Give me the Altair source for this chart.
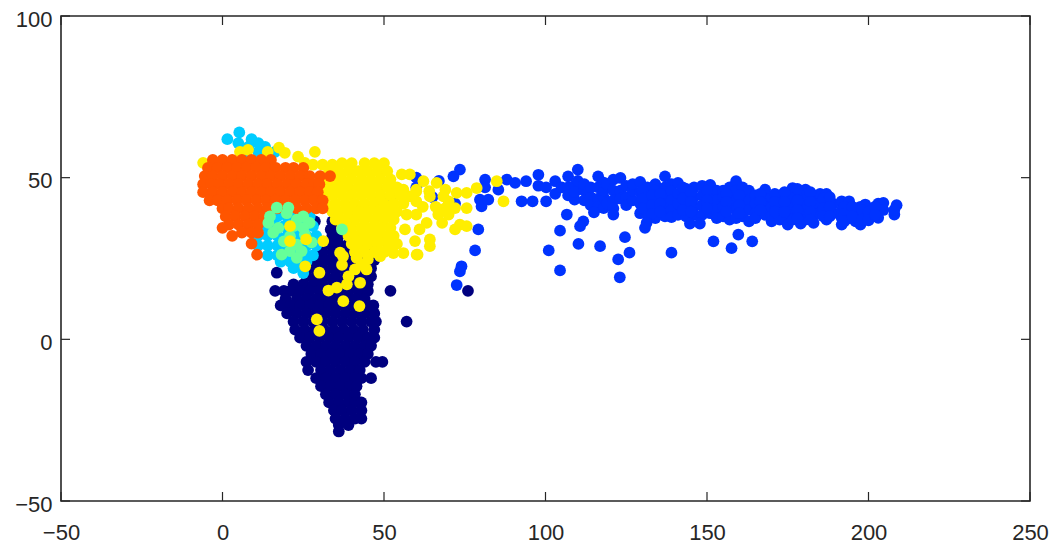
import altair as alt
import pandas as pd

x_ticks = [-50, 0, 50, 100, 150, 200, 250]
y_ticks = [-50, 0, 50, 100]

# (y, [x values]) rows
navy_rows = [
 (36.5,[28.6,34]),(34,[33.5,36]),(32,[34,36,40.5]),(29.5,[33,36,39]),(27,[31,34,37,40,46]),
 (24.5,[29,32,35,38,41,44,47]),(22,[28,31,34,37,40,43,46]),(20.6,[16.8]),
 (19.5,[26,29,32,35,38,41,44,46]),(17,[22,25,28,31,34,37,40,43,45]),
 (15,[16.3,19,21,24,27,30,33,36,39,42,45,52,76]),(12.5,[19.5,23,26,29,32,35,38,41,44]),
 (10.5,[18,21,24,27,30,33,36,39,42,45,46.7]),(8,[20,23,26,29,32,35,38,41,44,47]),
 (5.5,[22,25,28,31,34,37,40,43,46,47.5,57]),(3,[22.5,25.5,28.5,31.5,34.5,37.5,40.5,43.5,47]),
 (0.5,[24,27,30,33,36,39,42,45,47]),(-2,[26,29,32,35,38,41,44,46]),
 (-4.5,[27.5,30.5,33.5,36.5,39.5,42.5,45]),(-7,[26,29,32,35,38,41,44,47.5,49.5]),
 (-9.5,[26.5,30.5,33.5,36.5,39.5,42.5]),(-12,[29,32,35,38,41,43,46]),(-14.5,[30.5,33.5,36.5,39.5,41.5]),
 (-17,[32,35,38,41]),(-19.5,[33,36,39,41,43]),(-22,[34.5,37,40,43]),(-24.5,[35,38,41,43]),
 (-26.5,[36,39]),(-28.5,[36]),
]
# (x, [y values]) columns
blue_cols = [
 (52,[44]),(60,[47,50]),(65,[44]),(67,[49]),(72,[42]),(71.5,[50.4]),(73.5,[52.5,21]),(74,[22.6]),(72.5,[16.8]),
 (78.2,[27.5]),(79.2,[34]),(79.7,[43.2]),(80.2,[41.1]),(81.3,[49.4,47]),(82.3,[43.2]),(85.4,[46.3]),
 (88,[49.4]),(90.6,[48.4]),(92.6,[42.7]),(94,[48.9]),(96,[42.7]),(97.8,[50.9,47.5]),(100.2,[42.7,47]),
 (103,[48.9,45]),(105,[47]),(107,[50.4,47,44.5]),(109,[43.2,47.5,45.5]),(110,[52.5,49]),(112,[46,48,43]),
 (114,[44,47,41.5]),(116.3,[50.4,47,43.5,41]),(118,[40.6,44,46,48.5]),(119,[48,42]),(121,[49.4,46,43,40.5]),(123.2,[49.9,46,43.5]),
 (125,[47.5,44,41.5]),(127,[43,46,48]),(129.3,[48.7,45.5,42,39]),(131.5,[47,44,41,38.5]),(134,[48,46,43,40,37.5]),
 (137,[50.4,47,44,41,38]),(139,[48,46,43,40,37.8]),(141,[48.4,45,42,38.5]),(143.5,[46.5,44,41,38]),
 (146,[47,44,41,38.5]),(148.5,[47.5,44.5,41.5,38.5]),(151,[47.8,45,42,39]),(153,[46,43,40,37.5]),
 (155,[46,44,41,38]),(157,[47,44,41,37]),(159,[48.9,46,43,40,37.5]),(161,[47,44,41,38]),
 (163,[46,43,40,36.5]),(165,[44.5,42,39,37.5]),(168,[46.3,43.5,41,38.5]),(170,[44,41,38,36.5]),
 (172.5,[44.5,42,39,37]),(175,[44,41,38,35.5]),(176.5,[46.8,43.5,40.5,37]),(179,[45,42,39,35.8]),
 (180.5,[46.3,43,40,37]),(183,[44.5,41.5,38.5,36]),(185,[45,42,39]),(187,[45,43,40,37]),(189,[42,39]),
 (191.7,[42.7,40,37.5,35.5]),(194,[42.7,40,37.5]),(196,[39,36.5]),(197.5,[41,38,35.5]),(199,[41.7,39,37]),
 (201,[40,38]),(203,[42,39.5,37.6]),(204.6,[42.2,40]),(208.7,[41.5]),(208,[38.6,40]),
 (130,[46,43.5,40.5]),(133,[44.5,41.5,38.8]),(135.5,[45,42,39.5]),(142.5,[47,43.5,40]),(145,[45.5,42.5,39.5]),
 (150,[46,43,40.5]),(156,[45,42.5,39.5]),(160,[44.5,41.5,39]),(166.5,[45,42.5,40]),(171,[45,42.5,39.5]),
 (174,[45.5,42.5,39.5]),(178,[46.5,43,40,37.5]),(182,[45.5,42.5,39.5,37]),(186,[43.5,40.5,38]),(188,[44,41,38]),
 (192.5,[41,38.8,36.5]),(195,[41,38]),(198,[40,37]),(200,[39.5,36.8]),(202,[41,38.5]),
 (106.6,[38.6]),(115,[39.3]),(121,[38.6]),(111.7,[36.5]),(110.7,[35]),(104.5,[33.6,21.3]),(124.6,[31.6]),
 (110.2,[29.5]),(116.9,[28.8]),(101,[27.5]),(126,[26.8]),(122.5,[24.7]),(139,[26.8]),(123,[19.2]),
 (152,[30.3]),(159.7,[32.4]),(164,[30.3]),(157.6,[28.2]),(130.8,[34.5]),(131.3,[36]),(144.7,[35.8]),(147.8,[35.8]),
]
cyan_rows = [
 (64,[5.2]),(61.9,[1.5,9]),(60.7,[4.9,11.1]),(59.5,[8,13.2]),(58,[7,11.1,16.3]),
 (38,[14,17,20,23,27]),(35,[13,16,19,22,25,28]),(32,[11,14,17,20,23,26,29]),
 (29,[11,14,17,20,23,26,29]),(26,[14,17,20,23,26,28]),(24,[18,21,24,26]),(22,[22,25]),(20.5,[25]),
]
orange_rows = [
 (55.5,[-3,0,3,6,9,12,15]),(53,[-4.5,-1.5,1.5,4.5,7.5,10.5,13.5,16.5,19.5,22,25]),
 (50.5,[-5.5,-3,0,3,6,9,12,15,18,21,24,27,30.2,33.3]),(48,[-6,-3.5,-1,2,5,8,11,14,17,20,23,26,28.5,30]),
 (45.5,[-6,-3,0,3,6,9,12,15,18,21,24,27,29.5]),(43,[-4,-1.5,1.5,4.5,7.5,10.5,13.5,16.5,19.5,22.5,25.5,28.5,31]),
 (40.5,[0,2,5,8,11,14,17,20,23,26,29,31]),(38,[1,4,7,10,13]),(35.5,[2,5,8,11]),(33,[6,9,11]),
 (34.5,[0]),(32,[3]),(29.6,[9]),(26.2,[10.7]),
]
green_rows = [
 (40.7,[16.8,20.4]),(39,[19.9]),(38,[14.7,25]),(37,[23]),(36,[14.2,27]),(35,[22]),(34.5,[17.3,25]),(34,[37]),
 (33,[15.7]),(32.4,[25.5]),(31.9,[20.9]),(30.3,[19]),(30,[27.6]),(29.3,[23]),(27.3,[20.9,24.5]),(26.2,[18.3]),(25.2,[23]),
]
yellow_rows = [
 (54.6,[-6,25.5]),(58,[5.4,14,28.6]),(58.6,[7.9]),(59.3,[17.5]),(57.7,[19.3]),(56.5,[23.4]),(54,[28,31,34]),
 (54.5,[37,40,44,47,50]),(52,[33,36,39,42,45,48,51]),(49.5,[31,34,37,40,43,46,49,52]),
 (47,[30,33,36,39,42,45,48,51,54]),(44.5,[31,34,37,40,43,46,49,52,55]),(42,[32,35,38,41,44,47,50,53,56]),
 (39.5,[34,36,39,42,45,48,51,54]),(37,[35,38,41,44,47,50,53]),(34.5,[37,40,43,46,49,52]),(32,[39,41,44,47,50,53]),
 (29.5,[40,42,45,48,51,54]),(27,[41,44,47,50]),
 (51,[55.5,58]),(48.9,[62.2,84.9]),(48.4,[66.3]),(46.3,[56,60,69]),(45.8,[60,64]),(44.2,[58,64.2,68.4]),(45.3,[72.5,75.6]),
 (46.8,[78.7]),(42.7,[87,70,60]),(40.6,[75.6,72,69]),(35.5,[73.5]),(35,[75.6]),(38.6,[66.8,60,57,70]),(36,[63.2,68]),
 (34,[61,56.5,72]),(38,[52.4]),(30.9,[64.2,44.6]),(28.8,[64.2]),(30.4,[59.6]),(26.2,[60.1,60.4]),(26.7,[56,52.9]),
 (27.8,[51.3]),(25.7,[48.8,37.3]),(31.9,[47.7]),(41,[62,66]),
 (15.1,[32.8]),(16,[35.4]),(17,[38.5]),(17.5,[42.6]),(19.5,[39]),(21.6,[41,44.6]),(25.2,[41.5]),(24.7,[45]),(26.8,[36.4]),
 (23,[43,37]),
]
yellow_front_rows = [
 (35,[20.9]),(30.4,[20.9,31.2]),(30.9,[25.9]),(22.6,[25.6]),(20.6,[30]),(6.2,[29.2]),(2.6,[30]),(11.8,[37.4]),(10.3,[42.4]),
]

colors = ["#00007f", "#0033ff", "#00ccff", "#ffee00", "#ff5500", "#66ff99", "#ffee01"]
names = ["navy", "blue", "cyan", "yellow", "orange", "green", "yellow2"]

xs, ys, ss = [], [], []
def add_rows(rows, name):
    for y, vals in rows:
        for x in vals:
            xs.append(x); ys.append(y); ss.append(name)
def add_cols(cols, name):
    for x, vals in cols:
        for y in vals:
            xs.append(x); ys.append(y); ss.append(name)
add_rows(navy_rows, "navy")
add_cols(blue_cols, "blue")
add_rows(cyan_rows, "cyan")
add_rows(yellow_rows, "yellow")
add_rows(orange_rows, "orange")
add_rows(green_rows, "green")
add_rows(yellow_front_rows, "yellow2")
df = pd.DataFrame({"x": xs, "y": ys, "s": ss})

W, H = 969, 485
TICK = 9
INK = "#262626"
FONT = "Liberation Sans"
sx = alt.Scale(domain=[-50, 250], nice=False, zero=False)
sy = alt.Scale(domain=[-50, 100], nice=False, zero=False)

points = alt.Chart(df).mark_circle(size=138, opacity=1, strokeWidth=0).encode(
    x=alt.X("x:Q", scale=sx, title=None, axis=alt.Axis(values=x_ticks, ticks=False, domain=False, grid=False,
            labelFont=FONT, labelFontSize=22, labelColor=INK, labelPadding=31, labelBaseline="middle", labelFlush=False)),
    y=alt.Y("y:Q", scale=sy, title=None, axis=alt.Axis(values=y_ticks, ticks=False, domain=False, grid=False,
            labelFont=FONT, labelFontSize=22, labelColor=INK, labelPadding=9, labelBaseline="middle", labelFlush=False, labelOffset=3)),
    color=alt.Color("s:N", scale=alt.Scale(domain=names, range=colors), legend=None),
)

xdf = pd.DataFrame({"v": x_ticks})
ydf = pd.DataFrame({"v": y_ticks})
rule = dict(color=INK, strokeWidth=1.2)
xb = alt.Chart(xdf).mark_rule(**rule).encode(x=alt.X("v:Q", scale=sx), y=alt.value(H), y2=alt.value(H - TICK))
xt = alt.Chart(xdf).mark_rule(**rule).encode(x=alt.X("v:Q", scale=sx), y=alt.value(0), y2=alt.value(TICK))
yl = alt.Chart(ydf).mark_rule(**rule).encode(y=alt.Y("v:Q", scale=sy), x=alt.value(0), x2=alt.value(TICK))
yr = alt.Chart(ydf).mark_rule(**rule).encode(y=alt.Y("v:Q", scale=sy), x=alt.value(W), x2=alt.value(W - TICK))

chart = alt.layer(points, xb, xt, yl, yr).properties(
    width=W, height=H,
    autosize=alt.AutoSizeParams(type="none"),
    padding={"left": 53, "top": 8, "right": 19, "bottom": 44},
    background="white",
).configure_view(stroke=INK, strokeWidth=1.6)

chart.save("out.html", embed_options={"renderer": "svg", "actions": False})
